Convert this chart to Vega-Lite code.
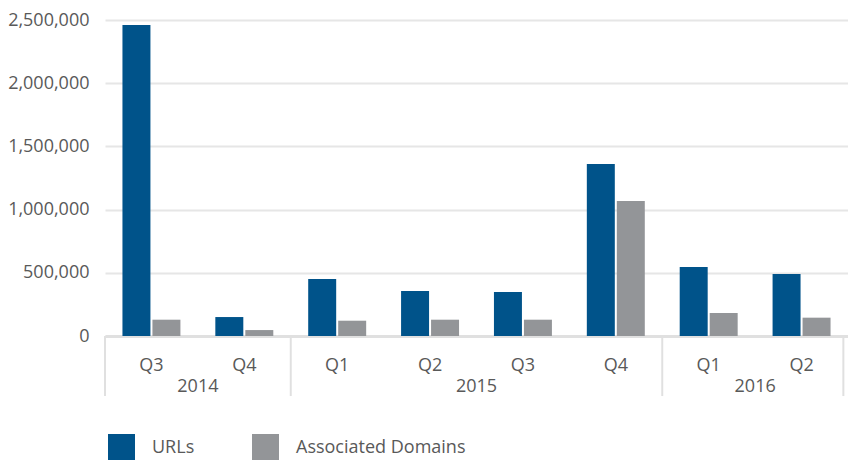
{
  "$schema": "https://vega.github.io/schema/vega-lite/v6.json",
  "width": 743,
  "height": 316,
  "autosize": {"type": "none"},
  "padding": {"left": 105, "top": 20, "right": 0, "bottom": 124},
  "config": {
    "font": "Open Sans",
    "view": {"stroke": null},
    "axis": {"labelFont": "Open Sans", "labelFontSize": 18, "labelColor": "#595959"}
  },
  "layer": [
    {
      "data": {"values": [
        {"quarter": "2014 Q3", "series": "URLs", "value": 2460000},
        {"quarter": "2014 Q3", "series": "Associated Domains", "value": 129000},
        {"quarter": "2014 Q4", "series": "URLs", "value": 150000},
        {"quarter": "2014 Q4", "series": "Associated Domains", "value": 47000},
        {"quarter": "2015 Q1", "series": "URLs", "value": 451000},
        {"quarter": "2015 Q1", "series": "Associated Domains", "value": 121000},
        {"quarter": "2015 Q2", "series": "URLs", "value": 356000},
        {"quarter": "2015 Q2", "series": "Associated Domains", "value": 129000},
        {"quarter": "2015 Q3", "series": "URLs", "value": 348000},
        {"quarter": "2015 Q3", "series": "Associated Domains", "value": 129000},
        {"quarter": "2015 Q4", "series": "URLs", "value": 1360000},
        {"quarter": "2015 Q4", "series": "Associated Domains", "value": 1068000},
        {"quarter": "2016 Q1", "series": "URLs", "value": 546000},
        {"quarter": "2016 Q1", "series": "Associated Domains", "value": 182000},
        {"quarter": "2016 Q2", "series": "URLs", "value": 490000},
        {"quarter": "2016 Q2", "series": "Associated Domains", "value": 145000}
      ]},
      "mark": {"type": "bar"},
      "encoding": {
        "x": {
          "field": "quarter", "type": "nominal",
          "scale": {"domain": ["2014 Q3", "2014 Q4", "2015 Q1", "2015 Q2", "2015 Q3", "2015 Q4", "2016 Q1", "2016 Q2"], "paddingInner": 0, "paddingOuter": 0},
          "axis": {
            "title": null, "labelAngle": 0, "ticks": false, "grid": false,
            "domain": true, "domainColor": "#e0e0e0", "domainWidth": 3,
            "labelPadding": 20, "labelExpr": "split(datum.value, ' ')[1]"
          }
        },
        "xOffset": {
          "field": "series", "type": "nominal",
          "scale": {"domain": ["URLs", "Associated Domains"], "paddingInner": 0.0667, "paddingOuter": 0.582}
        },
        "y": {
          "field": "value", "type": "quantitative",
          "scale": {"domain": [0, 2500000], "nice": false},
          "axis": {
            "title": null, "values": [0, 500000, 1000000, 1500000, 2000000, 2500000],
            "labelExpr": "format(datum.value, ',')", "grid": true, "gridColor": "#e6e6e6", "gridWidth": 2,
            "domain": false, "ticks": false, "labelPadding": 16
          }
        },
        "color": {
          "field": "series", "type": "nominal",
          "scale": {"domain": ["URLs", "Associated Domains"], "range": ["#00538a", "#939598"]},
          "legend": {
            "title": null, "orient": "none", "legendX": 3, "legendY": 414,
            "direction": "horizontal", "symbolType": "square", "symbolSize": 729,
            "symbolStrokeWidth": 0, "labelFontSize": 18, "labelColor": "#595959",
            "labelFont": "Open Sans", "labelOffset": 17, "columnPadding": 57, "labelLimit": 400
          }
        }
      }
    },
    {
      "data": {"values": [
        {"quarter": "2014 Q3", "year": "2014"},
        {"quarter": "2015 Q2", "year": "2015"},
        {"quarter": "2016 Q1", "year": "2016"}
      ]},
      "mark": {"type": "text", "dy": 51, "fontSize": 18, "color": "#595959", "baseline": "middle", "font": "Open Sans"},
      "encoding": {
        "x": {"field": "quarter", "type": "nominal", "bandPosition": 1},
        "y": {"datum": 0, "type": "quantitative"},
        "text": {"field": "year"}
      }
    },
    {
      "data": {"values": [
        {"quarter": "2014 Q3"},
        {"quarter": "2015 Q1"},
        {"quarter": "2016 Q1"}
      ]},
      "mark": {"type": "rule", "color": "#e0e0e0", "strokeWidth": 2},
      "encoding": {
        "x": {"field": "quarter", "type": "nominal", "bandPosition": 0},
        "y": {"datum": 0, "type": "quantitative"},
        "y2": {"datum": -475000}
      }
    },
    {
      "data": {"values": [
        {"quarter": "2016 Q2"}
      ]},
      "mark": {"type": "rule", "color": "#e0e0e0", "strokeWidth": 2},
      "encoding": {
        "x": {"field": "quarter", "type": "nominal", "bandPosition": 0.95},
        "y": {"datum": 0, "type": "quantitative"},
        "y2": {"datum": -475000}
      }
    }
  ]
}
